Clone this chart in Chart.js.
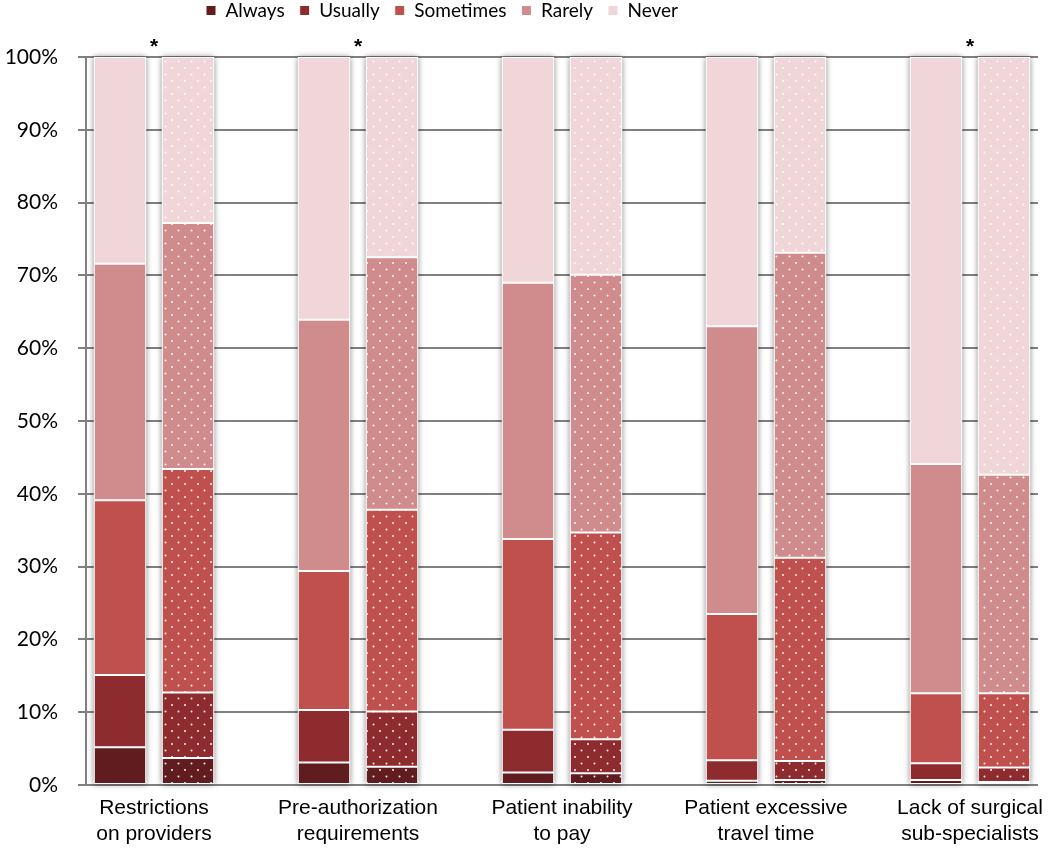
<!DOCTYPE html>
<html>
<head>
<meta charset="utf-8">
<script src="https://cdn.jsdelivr.net/npm/chart.js@4.4.0/dist/chart.umd.min.js"></script>
<style>
    html, body { margin: 0; padding: 0; background: #fff; }
    #wrap { width: 1050px; height: 848px; }
</style>
</head>
<body>
<div id="wrap"><canvas id="chart"></canvas></div>
<script>
// Categories and response levels
var categories = [
    ['Restrictions', 'on providers'],
    ['Pre-authorization', 'requirements'],
    ['Patient inability', 'to pay'],
    ['Patient excessive', 'travel time'],
    ['Lack of surgical', 'sub-specialists']
];
var levels = ['Always', 'Usually', 'Sometimes', 'Rarely', 'Never'];
var significant = [true, true, false, false, true];

// % of respondents, solid bars
var alwaysA    = [5.2, 3.1, 1.7, 0.6, 0.7];
var usuallyA   = [9.9, 7.2, 5.9, 2.8, 2.3];
var sometimesA = [24.0, 19.1, 26.2, 20.1, 9.6];
var rarelyA    = [32.5, 34.5, 35.2, 39.5, 31.5];
var neverA     = [28.4, 36.1, 31.0, 37.0, 55.9];

// % of respondents, dotted bars
var alwaysB    = [3.7, 2.5, 1.6, 0.7, 0.4];
var usuallyB   = [9.0, 7.6, 4.7, 2.6, 2.0];
var sometimesB = [30.7, 27.7, 28.4, 27.9, 10.2];
var rarelyB    = [33.8, 34.7, 35.4, 41.9, 30.0];
var neverB     = [22.8, 27.5, 29.9, 26.9, 57.4];

var colors = ['#601c1e', '#8e2b2e', '#c0504d', '#d08b8c', '#f0d6d8'];
var seriesA = [alwaysA, usuallyA, sometimesA, rarelyA, neverA];
var seriesB = [alwaysB, usuallyB, sometimesB, rarelyB, neverB];

// every category gets three slots: solid bar, dotted bar, gap (none after the last)
var slotLabels = [];
categories.forEach(function (c, i) {
    slotLabels.push(c, '');
    if (i < categories.length - 1) slotLabels.push('');
});

function slotData(a, b) {
    var out = [];
    a.forEach(function (v, i) {
        out.push(a[i], b[i]);
        if (i < a.length - 1) out.push(null);
    });
    return out;
}

var ctx = document.getElementById('chart').getContext('2d');

// white dots on the bar colour
function dotted(color) {
    var c = document.createElement('canvas');
    c.width = 13; c.height = 13;
    var g = c.getContext('2d');
    g.fillStyle = color;
    g.fillRect(0, 0, 13, 13);
    g.fillStyle = 'rgba(255,255,255,0.95)';
    [[3, 3], [9.5, 9.5]].forEach(function (p) {
        g.beginPath();
        g.arc(p[0], p[1], 1, 0, Math.PI * 2);
        g.fill();
    });
    return ctx.createPattern(c, 'repeat');
}

var datasets = levels.map(function (name, k) {
    var pat = dotted(colors[k]);
    return {
        label: name,
        data: slotData(seriesA[k], seriesB[k]),
        backgroundColor: function (c) {
            return c.dataIndex % 3 === 1 ? pat : colors[k];
        },
        borderColor: '#ffffff',
        borderWidth: 1,
        borderSkipped: false,
        barPercentage: 0.77,
        categoryPercentage: 1
    };
});

// soft grey shadow behind each stacked column
var barShadow = {
    id: 'barShadow',
    beforeDatasetsDraw: function (chart) {
        var c = chart.ctx;
        var n = chart.data.datasets.length;
        var bottom = chart.getDatasetMeta(0).data;
        var top = chart.getDatasetMeta(n - 1).data;
        c.save();
        c.shadowColor = 'rgba(0,0,0,0.5)';
        c.shadowBlur = 6;
        c.fillStyle = '#ffffff';
        bottom.forEach(function (bar, i) {
            if (chart.data.datasets[0].data[i] === null) return;
            var t = top[i].y;
            c.fillRect(bar.x - bar.width / 2, t, bar.width, bar.base - t);
        });
        c.restore();
    }
};

// asterisks over significant pairs
var stars = {
    id: 'stars',
    afterDatasetsDraw: function (chart) {
        var x = chart.scales.x, y = chart.scales.y, c = chart.ctx;
        c.save();
        c.font = 'bold 21px "Liberation Sans"';
        c.fillStyle = '#000';
        c.textAlign = 'center';
        c.textBaseline = 'middle';
        significant.forEach(function (s, i) {
            if (!s) return;
            var px = (x.getPixelForValue(i * 3) + x.getPixelForValue(i * 3 + 1)) / 2;
            c.fillText('*', px, y.top - 10);
        });
        c.restore();
    }
};

// legend: fixed height and nudged left/up like the original
var legendSpace = {
    id: 'legendSpace',
    beforeInit: function (chart) {
        var fit = chart.legend.fit;
        chart.legend.fit = function () {
            fit.call(this);
            this.height = 57;
        };
    },
    afterLayout: function (chart) {
        var l = chart.legend;
        l.left -= 77;
        l.right -= 77;
        l.top -= 14;
    }
};

new Chart(ctx, {
    type: 'bar',
    data: { labels: slotLabels, datasets: datasets },
    plugins: [legendSpace, barShadow, stars],
    options: {
        responsive: true,
        maintainAspectRatio: false,
        animation: false,
        layout: { padding: { left: 0, right: 12, top: 0, bottom: 0 } },
        plugins: {
            legend: {
                position: 'top',
                labels: {
                    boxWidth: 10,
                    boxHeight: 10,
                    padding: 15,
                    color: '#000',
                    font: { family: 'Lato', size: 19 }
                }
            },
            tooltip: { enabled: false }
        },
        scales: {
            x: {
                stacked: true,
                grid: { display: false, drawTicks: false },
                border: { display: false },
                ticks: {
                    autoSkip: false,
                    maxRotation: 0,
                    minRotation: 0,
                    labelOffset: 34,
                    padding: 11,
                    color: '#000',
                    font: { family: 'Liberation Sans', size: 21, lineHeight: 1.2 }
                },
                afterFit: function (s) { s.height = 63; }
            },
            y: {
                stacked: true,
                min: 0,
                max: 100,
                grid: { color: '#808080', lineWidth: 2, tickLength: 8 },
                border: { display: true, color: '#808080', width: 2 },
                ticks: {
                    stepSize: 10,
                    padding: 20,
                    color: '#000',
                    font: { family: 'Lato', size: 21 },
                    callback: function (v) { return v + '%'; }
                },
                afterFit: function (s) { s.width = 86; }
            }
        }
    }
});
</script>
</body>
</html>
